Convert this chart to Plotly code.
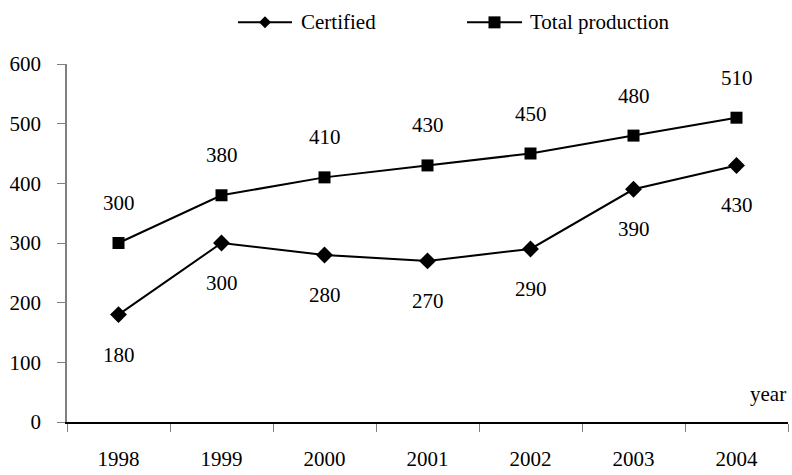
import plotly.graph_objects as go

# Yearly figures
years = ["1998", "1999", "2000", "2001", "2002", "2003", "2004"]
certified = [180, 300, 280, 270, 290, 390, 430]
total_production = [300, 380, 410, 430, 450, 480, 510]
y_ticks = [0, 100, 200, 300, 400, 500, 600]

FONT = "Liberation Serif, Times New Roman, serif"
FS = 21
LABEL_GAP = 40  # px between a marker and its value label

fig = go.Figure()

fig.add_trace(go.Scatter(
    x=years, y=certified, mode="lines+markers", name="Certified",
    line=dict(color="black", width=2),
    marker=dict(symbol="diamond", size=13, color="black"),
    showlegend=False,
))
fig.add_trace(go.Scatter(
    x=years, y=total_production, mode="lines+markers", name="Total production",
    line=dict(color="black", width=2),
    marker=dict(symbol="square", size=12, color="black"),
    showlegend=False,
))

annotations = []
# value labels: totals above their markers, certified below (x is the category index)
for i, v in enumerate(total_production):
    annotations.append(dict(x=i, y=v, xref="x", yref="y", text=str(v), showarrow=False,
                            yshift=LABEL_GAP, font=dict(family=FONT, size=FS, color="black")))
for i, v in enumerate(certified):
    annotations.append(dict(x=i, y=v, xref="x", yref="y", text=str(v), showarrow=False,
                            yshift=-LABEL_GAP, font=dict(family=FONT, size=FS, color="black")))

# axis caption
annotations.append(dict(x=1.0, y=0.078, xref="paper", yref="paper", text="year",
                        xanchor="right", yanchor="middle", showarrow=False,
                        font=dict(family=FONT, size=FS, color="black")))

# hand-drawn legend along the top
LEG_Y = 1.1163
shapes = [
    dict(type="line", xref="paper", yref="paper", x0=0.2372, x1=0.3121, y0=LEG_Y, y1=LEG_Y,
         line=dict(color="black", width=2)),
    dict(type="path", xref="paper", yref="paper", xsizemode="pixel", ysizemode="pixel",
         xanchor=0.2746, yanchor=LEG_Y, path="M0,6 L6,0 L0,-6 L-6,0 Z",
         fillcolor="black", line=dict(color="black", width=0)),
    dict(type="line", xref="paper", yref="paper", x0=0.5548, x1=0.6311, y0=LEG_Y, y1=LEG_Y,
         line=dict(color="black", width=2)),
    dict(type="rect", xref="paper", yref="paper", xsizemode="pixel", ysizemode="pixel",
         xanchor=0.5929, yanchor=LEG_Y, x0=-6, x1=6, y0=-6, y1=6,
         fillcolor="black", line=dict(color="black", width=0)),
]
annotations.append(dict(x=0.3218, y=LEG_Y, xref="paper", yref="paper", text="Certified",
                        xanchor="left", yanchor="middle", showarrow=False,
                        font=dict(family=FONT, size=FS, color="black")))
annotations.append(dict(x=0.6394, y=LEG_Y, xref="paper", yref="paper", text="Total production",
                        xanchor="left", yanchor="middle", showarrow=False,
                        font=dict(family=FONT, size=FS, color="black")))

fig.update_layout(
    width=792, height=475,
    margin=dict(l=67, r=4, t=64, b=50),
    paper_bgcolor="white", plot_bgcolor="white",
    font=dict(family=FONT, size=FS, color="black"),
    annotations=annotations,
    shapes=shapes,
    showlegend=False,
)

fig.update_xaxes(
    type="category", categoryorder="array", categoryarray=years,
    range=[-0.5, 6.5], tickson="boundaries",
    showline=True, linecolor="black", linewidth=1.5,
    ticks="outside", ticklen=8, tickcolor="#808080", tickwidth=1,
    showgrid=False, zeroline=False, ticklabelstandoff=17,
    tickfont=dict(family=FONT, size=FS, color="black"),
)
fig.update_yaxes(
    range=[0, 600], tickvals=y_ticks, ticktext=[str(t) for t in y_ticks],
    showline=True, linecolor="#808080", linewidth=1.5,
    ticks="outside", ticklen=8, tickcolor="#808080", tickwidth=1,
    showgrid=False, zeroline=False, ticklabelstandoff=12,
    tickfont=dict(family=FONT, size=FS, color="black"),
)

fig.write_html("out.html")
